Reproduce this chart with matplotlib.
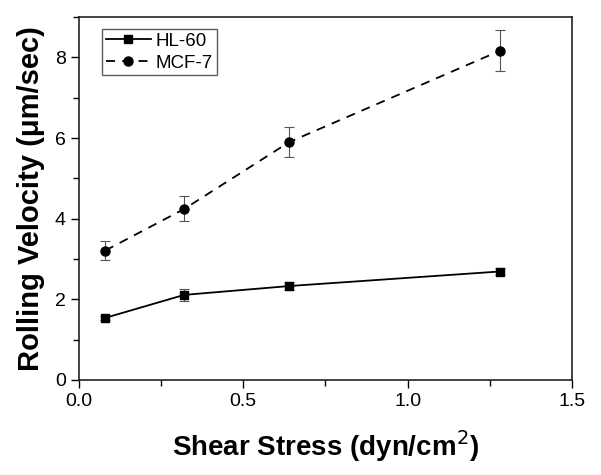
import matplotlib
matplotlib.use("Agg")
import matplotlib.pyplot as plt
from matplotlib.ticker import MultipleLocator

plt.rcParams['font.family'] = ['Liberation Sans', 'DejaVu Sans']

# shear stress (dyn/cm^2)
stress = [0.08, 0.32, 0.64, 1.28]

# rolling velocities (um/sec) and error bars
hl60 = [1.54, 2.11, 2.33, 2.69]
hl60_err = [0.05, 0.14, 0.10, 0.08]
mcf7 = [3.21, 4.24, 5.90, 8.16]
mcf7_err = [0.24, 0.31, 0.38, 0.51]

fig = plt.figure(figsize=(6.01, 4.75), dpi=100)
ax = fig.add_axes([0.1314, 0.2, 0.8203, 0.7642])

c1 = ax.errorbar(stress, hl60, yerr=hl60_err, color='black', ls='-', lw=1.3,
                 marker='s', ms=6, ecolor='#555555', elinewidth=0.8, capsize=3.5,
                 capthick=0.8)
c2 = ax.errorbar(stress, mcf7, yerr=mcf7_err, color='black', ls=(0, (5, 4)), lw=1.3,
                 marker='o', ms=6.5, ecolor='#555555', elinewidth=0.8, capsize=3.5,
                 capthick=0.8)

ax.set_xlim(0, 1.5)
ax.set_ylim(0, 9)
ax.xaxis.set_major_locator(MultipleLocator(0.5))
ax.xaxis.set_minor_locator(MultipleLocator(0.25))
ax.yaxis.set_major_locator(MultipleLocator(2))
ax.yaxis.set_minor_locator(MultipleLocator(1))
ax.tick_params(which='major', direction='out', length=6, width=1, labelsize=14)
ax.tick_params(which='minor', direction='out', length=4, width=1)
for s in ax.spines.values():
    s.set_linewidth(1.2)
    s.set_color('#222222')

ax.set_xlabel('Shear Stress (dyn/cm$^2$)', fontsize=20, fontweight='bold', labelpad=13)
ax.set_ylabel('Rolling Velocity (\u03bcm/sec)', fontsize=21, fontweight='bold', labelpad=7)

leg = ax.legend([c1[0], c2[0]], ['HL-60', 'MCF-7'], loc='upper left',
                bbox_to_anchor=(0.047, 0.967), borderaxespad=0, fontsize=13.5,
                frameon=True, fancybox=False, edgecolor='#333333',
                handlelength=2.4, borderpad=0.2, labelspacing=0.25,
                handletextpad=0.25)
leg.get_frame().set_linewidth(1.0)

fig.savefig('out.png', dpi=100)
